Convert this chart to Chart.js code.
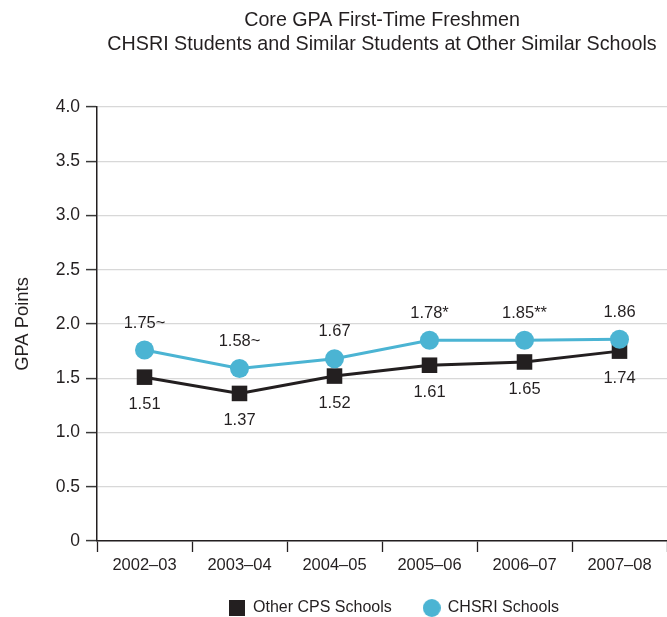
<!DOCTYPE html>
<html>
<head>
<meta charset="utf-8">
<script src="https://cdn.jsdelivr.net/npm/chart.js@4.4.1/dist/chart.umd.min.js"></script>
<style>
  html, body { margin: 0; padding: 0; background: #ffffff; overflow: hidden; }
  #wrap { width: 667px; height: 617px; position: relative; overflow: hidden; }
  #wrap canvas { display: block; }
</style>
</head>
<body>
<div id="wrap"><canvas id="c"></canvas></div>
<script>
// ---- data ----
const categories = ['2002\u201303', '2003\u201304', '2004\u201305', '2005\u201306', '2006\u201307', '2007\u201308'];
const otherValues = [1.51, 1.36, 1.52, 1.62, 1.65, 1.75];
const chsriValues = [1.76, 1.59, 1.68, 1.85, 1.85, 1.86];
const otherLabels = ['1.51', '1.37', '1.52', '1.61', '1.65', '1.74'];
const chsriLabels = ['1.75~', '1.58~', '1.67', '1.78*', '1.85**', '1.86'];
const yTickValues = [0, 0.5, 1.0, 1.5, 2.0, 2.5, 3.0, 3.5, 4.0];
const seriesNames = ['Other CPS Schools', 'CHSRI Schools'];
const titleLines = ['Core GPA First-Time Freshmen', 'CHSRI Students and Similar Students at Other Similar Schools'];
const yAxisTitle = 'GPA Points';

// ---- styles ----
const INK = '#231f20';
const CYAN = '#4bb4d3';
Chart.defaults.font.family = "'Liberation Sans', Arial, Helvetica, sans-serif";
Chart.defaults.color = INK;

function makeMarker(kind, size, color) {
  const cv = document.createElement('canvas');
  cv.width = size; cv.height = size;
  const c = cv.getContext('2d');
  c.fillStyle = color;
  if (kind === 'rect') { c.fillRect(0, 0, size, size); }
  else { c.beginPath(); c.arc(size / 2, size / 2, size / 2, 0, Math.PI * 2); c.fill(); }
  return cv;
}
const legendMarkers = [makeMarker('rect', 16, INK), makeMarker('circle', 18, CYAN)];

const pointLabelPlugin = {
  id: 'pointLabels',
  afterDatasetsDraw(chart) {
    const ctx = chart.ctx;
    ctx.save();
    ctx.font = "16.5px 'Liberation Sans', Arial, sans-serif";
    ctx.fillStyle = INK;
    ctx.textAlign = 'center';
    ctx.textBaseline = 'middle';
    chart.data.datasets.forEach((ds, i) => {
      const meta = chart.getDatasetMeta(i);
      meta.data.forEach((el, j) => {
        ctx.fillText(ds.pointTexts[j], el.x, el.y + ds.textOffset);
      });
    });
    ctx.restore();
  }
};

const legendShiftPlugin = {
  id: 'legendShift',
  afterLayout(chart) {
    const lg = chart.legend;
    if (lg) {
      lg.left = chart.chartArea.left + 24;
      lg.top = chart.chartArea.bottom + 27;
      lg.bottom = chart.height;
    }
  }
};

new Chart(document.getElementById('c'), {
  type: 'line',
  data: {
    labels: categories,
    datasets: [
      {
        label: seriesNames[0],
        data: otherValues,
        pointTexts: otherLabels,
        textOffset: 27,
        order: 1,
        borderColor: INK,
        backgroundColor: INK,
        borderWidth: 3,
        pointStyle: 'rect',
        pointRadius: 11,
        pointHoverRadius: 11,
        pointBorderWidth: 0,
        pointBackgroundColor: INK,
        tension: 0
      },
      {
        label: seriesNames[1],
        data: chsriValues,
        pointTexts: chsriLabels,
        textOffset: -27,
        order: 0,
        borderColor: CYAN,
        backgroundColor: CYAN,
        borderWidth: 3,
        pointStyle: 'circle',
        pointRadius: 9.5,
        pointHoverRadius: 9.5,
        pointBorderWidth: 0,
        pointBackgroundColor: CYAN,
        tension: 0
      }
    ]
  },
  options: {
    responsive: true,
    maintainAspectRatio: false,
    animation: false,
    events: [],
    layout: { autoPadding: false, padding: { left: 0, right: 0, top: 0, bottom: 0 } },
    plugins: {
      tooltip: { enabled: false },
      title: {
        display: true,
        fullSize: false,
        text: titleLines,
        color: INK,
        font: { size: 19.7, weight: 'normal', lineHeight: 1.2 },
        padding: { top: 8.7, bottom: 51 }
      },
      legend: {
        display: true,
        position: 'bottom',
        fullSize: false,
        maxHeight: 40,
        labels: {
          usePointStyle: true,
          boxWidth: 16,
          boxHeight: 16,
          padding: 32,
          color: INK,
          font: { size: 16 },
          sort: (a, b) => a.datasetIndex - b.datasetIndex,
          generateLabels(chart) {
            const items = Chart.defaults.plugins.legend.labels.generateLabels(chart);
            items.forEach(it => { it.pointStyle = legendMarkers[it.datasetIndex]; it.lineWidth = 0; });
            return items;
          }
        }
      }
    },
    scales: {
      x: {
        offset: true,
        grid: {
          offset: true,
          drawOnChartArea: false,
          drawTicks: true,
          tickLength: 11,
          tickColor: INK,
          tickWidth: 1.3
        },
        border: { display: true, color: INK, width: 1.5 },
        ticks: { color: INK, font: { size: 16.5 }, padding: 4, maxRotation: 0, autoSkip: false },
        afterFit(scale) { scale.height = 36; scale.paddingLeft = 0; scale.paddingRight = 0; }
      },
      y: {
        min: 0,
        max: 4,
        afterBuildTicks(scale) { scale.ticks = yTickValues.map(v => ({ value: v })); },
        grid: {
          color: '#d8d8d8',
          lineWidth: 1.2,
          drawTicks: true,
          tickLength: 11,
          tickColor: '#3a3a3a',
          tickWidth: 1.5
        },
        border: { display: true, color: INK, width: 1.5 },
        ticks: {
          color: INK,
          font: { size: 17.5 },
          padding: 6,
          callback: (v) => (v === 0 ? '0' : Number(v).toFixed(1))
        },
        title: {
          display: true,
          text: yAxisTitle,
          color: INK,
          font: { size: 18.4, lineHeight: 1.2 },
          padding: { top: 12, bottom: 0 }
        },
        afterFit(scale) { scale.width = 97; }
      }
    }
  },
  plugins: [pointLabelPlugin, legendShiftPlugin]
});
</script>
</body>
</html>
